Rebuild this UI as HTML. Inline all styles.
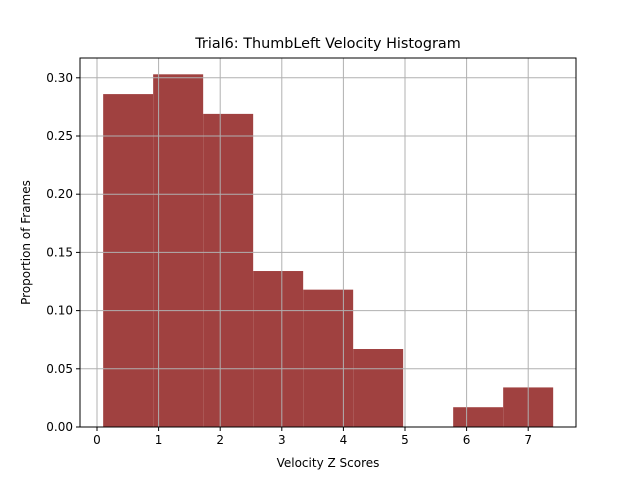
<!DOCTYPE html>
<html><head><meta charset="utf-8"><style>
body{margin:0;background:#fff;}
svg{display:block;font-family:"DejaVu Sans","Liberation Sans",sans-serif;}
</style></head><body>
<svg id="chart" width="640" height="480"></svg>
<script>
const binStart = 0.1;
const binWidth = 0.8117;
const binValues = [0.286, 0.303, 0.269, 0.134, 0.118, 0.067, 0, 0.017, 0.034];
const xTicks = [0, 1, 2, 3, 4, 5, 6, 7];
const yTicks = [0, 0.05, 0.10, 0.15, 0.20, 0.25, 0.30];
const yTickLabels = ["0.00", "0.05", "0.10", "0.15", "0.20", "0.25", "0.30"];

const L = 80, R = 576, T = 58, B = 427;
const xs = v => 97 + v * 61.6;
const ys = v => B - v * (58.2 / 0.05);
const svg = document.getElementById('chart');
const NS = 'http://www.w3.org/2000/svg';
function mk(tag, attrs, parent) {
  const e = document.createElementNS(NS, tag);
  for (const k in attrs) e.setAttribute(k, attrs[k]);
  (parent || svg).appendChild(e);
  return e;
}
binValues.forEach((v, i) => {
  const x0 = xs(binStart + i * binWidth), x1 = xs(binStart + (i + 1) * binWidth);
  const r = mk('rect', {x: x0, y: ys(v), width: x1 - x0, height: B - ys(v), fill: '#a04140'});
  
  
});
xTicks.forEach(t => {
  const x = xs(t);
  const g = mk('line', {x1: x, x2: x, y1: T, y2: B, stroke: '#b0b0b0', 'stroke-width': 1});
  
  
  mk('line', {x1: x, x2: x, y1: B, y2: B + 4, stroke: '#000'});
  const tx = mk('text', {x: x, y: B + 17, 'text-anchor': 'middle', 'font-size': 12});
  tx.textContent = t;
  
  
});
yTicks.forEach((t, i) => {
  const y = ys(t);
  const g = mk('line', {x1: L, x2: R, y1: y, y2: y, stroke: '#b0b0b0', 'stroke-width': 1});
  
  
  mk('line', {x1: L - 4, x2: L, y1: y, y2: y, stroke: '#000'});
  const tx = mk('text', {x: L - 7, y: y + 4, 'text-anchor': 'end', 'font-size': 12});
  tx.textContent = yTickLabels[i];
  
  
});
const frame = mk('rect', {x: L, y: T, width: R - L, height: B - T, fill: 'none', stroke: '#000', 'stroke-width': 1});


const title = mk('text', {x: (L + R) / 2, y: 48, 'text-anchor': 'middle', 'font-size': 14.4});
title.textContent = 'Trial6: ThumbLeft Velocity Histogram';


const xl = mk('text', {x: (L + R) / 2, y: 467, 'text-anchor': 'middle', 'font-size': 12});
xl.textContent = 'Velocity Z Scores';


const yl = mk('text', {x: 30, y: (T + B) / 2, 'text-anchor': 'middle', 'font-size': 12, transform: 'rotate(-90 30 ' + (T + B) / 2 + ')'});
yl.textContent = 'Proportion of Frames';


</script>
</body></html>
